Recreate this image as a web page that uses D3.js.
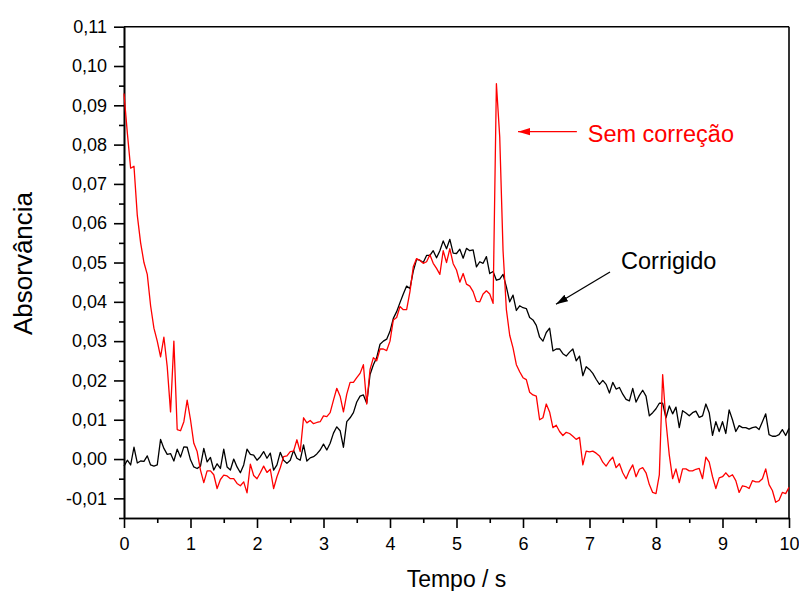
<!DOCTYPE html>
<html>
<head>
<meta charset="utf-8">
<script src="https://cdn.jsdelivr.net/npm/d3@7"></script>
<style>
  body { margin: 0; background: #fff; }
  svg text { font-family: "Liberation Sans", Arial, Helvetica, sans-serif; }
</style>
</head>
<body>
<svg id="chart" width="799" height="591"></svg>
<script>
// amostragem: um ponto a cada 0,05 s, de 0 a 10 s
var tempo = d3.range(0, 201).map(function(i) { return i * 0.05; });

// curva corrigida (preta)
var corrigido = [
  -0.0018, -0.0003, -0.0015, 0.0030, -0.0010, -0.0005, -0.0006, 0.0008, -0.0015, -0.0018,
  -0.0015, 0.0050, 0.0027, 0.0012, 0.0014, -0.0005, 0.0025, 0.0005, 0.0031, 0.0030,
  -0.0002, -0.0020, -0.0024, -0.0018, 0.0027, -0.0007, 0.0004, -0.0028, -0.0012, -0.0024,
  0.0025, -0.0020, -0.0028, 0.0000, -0.0020, -0.0035, -0.0015, 0.0025, 0.0012, 0.0010,
  -0.0003, 0.0006, 0.0019, 0.0002, 0.0015, -0.0028, -0.0015, 0.0017, -0.0003, -0.0011,
  -0.0003, 0.0022, 0.0002, -0.0003, 0.0036, -0.0005, 0.0003, 0.0006, 0.0013, 0.0023,
  0.0038, 0.0023, 0.0040, 0.0066, 0.0082, 0.0072, 0.0030, 0.0095, 0.0105, 0.0118,
  0.0145, 0.0160, 0.0163, 0.0142, 0.0215, 0.0240, 0.0258, 0.0292, 0.0300, 0.0305,
  0.0325, 0.0358, 0.0375, 0.0398, 0.0420, 0.0440, 0.0434, 0.0478, 0.0508, 0.0506,
  0.0500, 0.0518, 0.0518, 0.0530, 0.0512, 0.0530, 0.0555, 0.0535, 0.0559, 0.0524,
  0.0523, 0.0534, 0.0511, 0.0536, 0.0530, 0.0532, 0.0489, 0.0502, 0.0498, 0.0515,
  0.0472, 0.0477, 0.0455, 0.0458, 0.0470, 0.0438, 0.0400, 0.0417, 0.0378, 0.0390,
  0.0385, 0.0383, 0.0360, 0.0354, 0.0340, 0.0310, 0.0300, 0.0322, 0.0333, 0.0275,
  0.0280, 0.0280, 0.0268, 0.0262, 0.0272, 0.0280, 0.0250, 0.0262, 0.0212, 0.0235,
  0.0228, 0.0218, 0.0203, 0.0190, 0.0200, 0.0190, 0.0168, 0.0195, 0.0178, 0.0182,
  0.0165, 0.0152, 0.0148, 0.0180, 0.0145, 0.0162, 0.0175, 0.0160, 0.0110, 0.0118,
  0.0128, 0.0142, 0.0142, 0.0105, 0.0135, 0.0115, 0.0132, 0.0080, 0.0123, 0.0117,
  0.0110, 0.0118, 0.0122, 0.0106, 0.0110, 0.0140, 0.0118, 0.0060, 0.0095, 0.0070,
  0.0095, 0.0065, 0.0125, 0.0100, 0.0070, 0.0085, 0.0080, 0.0080, 0.0076, 0.0080,
  0.0082, 0.0075, 0.0095, 0.0115, 0.0062, 0.0058, 0.0058, 0.0062, 0.0075, 0.0060,
  0.0078
];

// curva sem correcao (vermelha)
var semCorrecao = [
  0.0930, 0.0830, 0.0740, 0.0745, 0.0620, 0.0550, 0.0500, 0.0470, 0.0390, 0.0333,
  0.0300, 0.0260, 0.0310, 0.0235, 0.0120, 0.0300, 0.0075, 0.0072, 0.0095, 0.0150,
  0.0100, 0.0040, 0.0019, -0.0028, -0.0060, -0.0030, -0.0030, -0.0040, -0.0075, -0.0052,
  -0.0041, -0.0043, -0.0050, -0.0050, -0.0062, -0.0068, -0.0058, -0.0086, -0.0013, -0.0042,
  -0.0050, -0.0035, -0.0018, -0.0034, -0.0026, -0.0075, -0.0045, -0.0022, 0.0006, 0.0008,
  0.0019, 0.0020, 0.0049, 0.0019, 0.0105, 0.0092, 0.0098, 0.0090, 0.0093, 0.0095,
  0.0110, 0.0108, 0.0118, 0.0150, 0.0180, 0.0160, 0.0120, 0.0165, 0.0195, 0.0195,
  0.0207, 0.0218, 0.0240, 0.0140, 0.0228, 0.0258, 0.0250, 0.0280, 0.0280, 0.0276,
  0.0300, 0.0354, 0.0360, 0.0388, 0.0380, 0.0380, 0.0426, 0.0489, 0.0510, 0.0505,
  0.0498, 0.0502, 0.0520, 0.0498, 0.0485, 0.0470, 0.0530, 0.0500, 0.0535, 0.0497,
  0.0481, 0.0450, 0.0472, 0.0445, 0.0440, 0.0426, 0.0401, 0.0400, 0.0420, 0.0428,
  0.0420, 0.0396, 0.0955, 0.0820, 0.0530, 0.0380, 0.0315, 0.0283, 0.0240, 0.0222,
  0.0207, 0.0202, 0.0170, 0.0163, 0.0160, 0.0100, 0.0105, 0.0140, 0.0120, 0.0080,
  0.0086, 0.0070, 0.0060, 0.0068, 0.0065, 0.0058, 0.0050, 0.0055, -0.0015, 0.0020,
  0.0018, 0.0020, 0.0015, 0.0008, -0.0008, -0.0018, -0.0005, 0.0005, -0.0022, -0.0012,
  -0.0035, -0.0050, -0.0030, -0.0015, -0.0045, -0.0026, -0.0022, -0.0035, -0.0065, -0.0085,
  -0.0088, -0.0040, 0.0215, 0.0095, 0.0010, -0.0050, -0.0025, -0.0060, -0.0025, -0.0025,
  -0.0030, -0.0030, -0.0026, -0.0024, -0.0050, 0.0005, -0.0008, -0.0045, -0.0075, -0.0048,
  -0.0045, -0.0035, -0.0045, -0.0040, -0.0055, -0.0085, -0.0068, -0.0070, -0.0075, -0.0055,
  -0.0058, -0.0058, -0.0050, -0.0025, -0.0065, -0.0080, -0.0110, -0.0105, -0.0085, -0.0088,
  -0.0072
];

// ticks
var xMajor = [0, 1, 2, 3, 4, 5, 6, 7, 8, 9, 10];
var xMinor = [0.5, 1.5, 2.5, 3.5, 4.5, 5.5, 6.5, 7.5, 8.5, 9.5];
var yMajor = [-0.01, 0, 0.01, 0.02, 0.03, 0.04, 0.05, 0.06, 0.07, 0.08, 0.09, 0.10, 0.11];
var yMinor = [-0.015, -0.005, 0.005, 0.015, 0.025, 0.035, 0.045, 0.055, 0.065, 0.075, 0.085, 0.095, 0.105];

(function() {
  var svg = d3.select('#chart');
  var plotLeft = 124, plotRight = 789, plotTop = 26.7, plotBottom = 518;

  var x = d3.scaleLinear().domain([0, 10]).range([plotLeft, plotRight]);
  var y = d3.scaleLinear().domain([-0.015, 0.11]).range([plotBottom, plotTop]);

  var virgula = function(d) { return d3.format('.2f')(d).replace('.', ',').replace('\u2212', '-'); };

  // marcadores das setas
  var defs = svg.append('defs');
  [['setaVermelha', '#ff0000'], ['setaPreta', '#000']].forEach(function(m) {
    defs.append('marker')
      .attr('id', m[0])
      .attr('markerUnits', 'userSpaceOnUse')
      .attr('markerWidth', 13).attr('markerHeight', 9)
      .attr('refX', 12).attr('refY', 4.5)
      .attr('orient', 'auto')
      .append('path')
      .attr('d', 'M0,0.8 L12,4.5 L0,8.2 Z')
      .style('fill', m[1]);
  });

  // moldura (topo e direita)
  svg.append('line').attr('x1', plotLeft).attr('x2', plotRight).attr('y1', plotTop).attr('y2', plotTop)
    .style('stroke', '#000').style('stroke-width', 1.6);
  svg.append('line').attr('x1', plotRight).attr('x2', plotRight).attr('y1', plotTop).attr('y2', plotBottom)
    .style('stroke', '#000').style('stroke-width', 1.6);

  // eixo x
  var gx = svg.append('g').attr('transform', 'translate(0,' + plotBottom + ')');
  gx.call(d3.axisBottom(x).tickValues(xMinor).tickSize(5).tickSizeOuter(0).tickFormat(''));
  var gxMaj = svg.append('g').attr('transform', 'translate(0,' + plotBottom + ')');
  gxMaj.call(d3.axisBottom(x).tickValues(xMajor).tickSize(10).tickSizeOuter(0).tickPadding(9)
    .tickFormat(d3.format('d')));

  // eixo y
  var gy = svg.append('g').attr('transform', 'translate(' + plotLeft + ',0)');
  gy.call(d3.axisLeft(y).tickValues(yMinor).tickSize(5).tickSizeOuter(0).tickFormat(''));
  var gyMaj = svg.append('g').attr('transform', 'translate(' + plotLeft + ',0)');
  gyMaj.call(d3.axisLeft(y).tickValues(yMajor).tickSize(10).tickSizeOuter(0).tickPadding(7)
    .tickFormat(virgula));

  svg.selectAll('.domain, .tick line').style('stroke', '#000').style('stroke-width', 1.6);
  svg.selectAll('.tick text').style('font-size', '18px').style('fill', '#000');
  gxMaj.selectAll('.tick text').attr('dy', '0.71em');

  // linhas
  var linha = d3.line()
    .x(function(d, i) { return x(tempo[i]); })
    .y(function(d) { return y(d); });

  svg.append('path')
    .datum(corrigido)
    .attr('d', linha)
    .style('fill', 'none').style('stroke', '#000').style('stroke-width', 1.3)
    .style('stroke-linejoin', 'round');

  svg.append('path')
    .datum(semCorrecao)
    .attr('d', linha)
    .style('fill', 'none').style('stroke', '#ff0000').style('stroke-width', 1.3)
    .style('stroke-linejoin', 'round');

  // anotacoes
  svg.append('line')
    .attr('x1', x(6.81)).attr('y1', y(0.0833))
    .attr('x2', x(5.925)).attr('y2', y(0.0833))
    .style('stroke', '#ff0000').style('stroke-width', 1.3)
    .attr('marker-end', 'url(#setaVermelha)');
  svg.append('text')
    .attr('x', x(6.973)).attr('y', y(0.0807))
    .style('font-size', '23.5px').style('fill', '#ff0000')
    .text('Sem correção');

  svg.append('line')
    .attr('x1', x(7.308)).attr('y1', y(0.0476))
    .attr('x2', x(6.496)).attr('y2', y(0.0394))
    .style('stroke', '#000').style('stroke-width', 1.3)
    .attr('marker-end', 'url(#setaPreta)');
  svg.append('text')
    .attr('x', x(7.474)).attr('y', y(0.0483))
    .style('font-size', '23.5px').style('fill', '#000')
    .text('Corrigido');

  // titulos dos eixos
  svg.append('text')
    .attr('x', (plotLeft + plotRight) / 2).attr('y', 586.5)
    .attr('text-anchor', 'middle')
    .style('font-size', '23px')
    .text('Tempo / s');

  svg.append('text')
    .attr('transform', 'translate(32,263.5) rotate(-90)')
    .attr('text-anchor', 'middle')
    .style('font-size', '26px')
    .text('Absorvância');
})();
</script>
</body>
</html>
